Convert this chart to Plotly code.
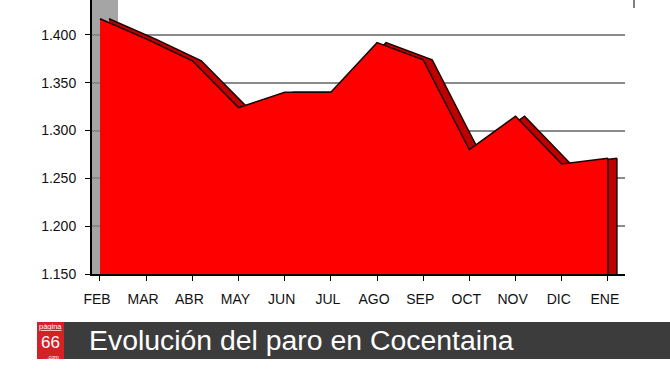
import plotly.graph_objects as go

months = ["FEB", "MAR", "ABR", "MAY", "JUN", "JUL", "AGO", "SEP", "OCT", "NOV", "DIC", "ENE"]
parados = [1417, 1396, 1373, 1324, 1340, 1340, 1392, 1374, 1280, 1315, 1265, 1271]
y_ticks = [1150, 1200, 1250, 1300, 1350, 1400]
title_text = "Evolución del paro en Cocentaina"

W, H = 670, 377
L, R, T, B = 92, 45, 0, 103
pw, ph = W - L - R, H - T - B

def px(x):
    return (x - L) / pw

def py(y):
    return (T + ph - y) / ph

xr = [-0.173, 11.37]
yr = [1150, 1436.6]
ppu_x = pw / (xr[1] - xr[0])
dx = 9  # depth offset in pixels

fig = go.Figure()

# back (depth) face, drawn first on the base subplot
fig.add_trace(go.Scatter(
    x=months, y=parados, xaxis="x", yaxis="y",
    mode="lines", fill="tozeroy", fillcolor="#bf0000",
    line=dict(color="#1a0000", width=1.5), hoverinfo="skip", showlegend=False))

# front face on overlaying x-axis
fig.add_trace(go.Scatter(
    x=months, y=parados, xaxis="x2", yaxis="y",
    mode="lines", fill="tozeroy", fillcolor="#ff0000",
    line=dict(color="#1a0000", width=1.5), showlegend=False))

shapes = [
    # left wall
    dict(type="rect", xref="paper", yref="paper", x0=px(92), x1=px(118), y0=0, y1=1,
         fillcolor="#a5a5a5", line=dict(width=0), layer="between"),
    # front right edge
    dict(type="line", xref="x2", yref="y", x0=months[-1], x1=months[-1], y0=yr[0], y1=parados[-1],
         line=dict(color="#1a0000", width=1.5)),
    # back right edge
    dict(type="line", xref="x", yref="y", x0=months[-1], x1=months[-1], y0=yr[0], y1=parados[-1],
         line=dict(color="#1a0000", width=1.5)),
    # banner
    dict(type="rect", xref="paper", yref="paper", x0=px(37), x1=px(670), y0=py(359), y1=py(322),
         fillcolor="#3c3c3c", line=dict(width=0)),
    # logo
    dict(type="rect", xref="paper", yref="paper", x0=px(37), x1=px(64), y0=py(359), y1=py(322),
         fillcolor="#d42027", line=dict(width=0)),
    # small top-right mark
    dict(type="line", xref="paper", yref="paper", x0=px(634), x1=px(634), y0=py(0), y1=py(8),
         line=dict(color="#000", width=1)),
]

annotations = [
    dict(text=title_text, xref="paper", yref="paper", x=px(87), y=py(340),
         xanchor="left", yanchor="middle", showarrow=False,
         font=dict(family="Liberation Sans, Arial", size=28.4, color="white")),
    dict(text="<u>página</u>", xref="paper", yref="paper", x=px(50.5), y=py(326),
         xanchor="center", yanchor="middle", showarrow=False, borderpad=0,
         font=dict(family="Liberation Sans, Arial", size=7.5, color="white")),
    dict(text="66", xref="paper", yref="paper", x=px(50.5), y=py(342.5),
         xanchor="center", yanchor="middle", showarrow=False, borderpad=0,
         font=dict(family="Liberation Sans, Arial", size=17, color="white")),
    dict(text=".com", xref="paper", yref="paper", x=px(60), y=py(356.5),
         xanchor="right", yanchor="middle", showarrow=False, borderpad=0,
         font=dict(family="Liberation Sans, Arial", size=5.5, color="white")),
]

tickfont = dict(family="Liberation Sans, Arial", size=14, color="#111")

fig.update_layout(
    width=W, height=H,
    margin=dict(l=L, r=R, t=T, b=B, pad=0),
    paper_bgcolor="white", plot_bgcolor="white",
    separators=",.",
    shapes=shapes, annotations=annotations,
    xaxis=dict(type="category", categoryarray=months,
               range=[xr[0] - dx / ppu_x, xr[1] - dx / ppu_x],
               showline=False, showticklabels=False, ticks="",
               showgrid=False, zeroline=False),
    xaxis2=dict(type="category", categoryarray=months, overlaying="x", anchor="y", side="bottom",
                range=xr,
                showline=True, linecolor="black", linewidth=2,
                ticks="outside", ticklen=5, tickcolor="black", tickwidth=1,
                ticklabelshift=-3, ticklabelstandoff=6,
                showgrid=False, zeroline=False, tickfont=tickfont),
    yaxis=dict(range=yr, tickvals=y_ticks, tickformat=",d",
               showline=True, linecolor="black", linewidth=2,
               ticks="outside", ticklen=5, tickcolor="black",
               ticklabelstandoff=6,
               showgrid=True, gridcolor="#8a8a8a", gridwidth=1.5, zeroline=False,
               tickfont=tickfont),
)

fig.write_html("out.html", config={"displayModeBar": False},
               post_script="document.body.style.margin='0';")
